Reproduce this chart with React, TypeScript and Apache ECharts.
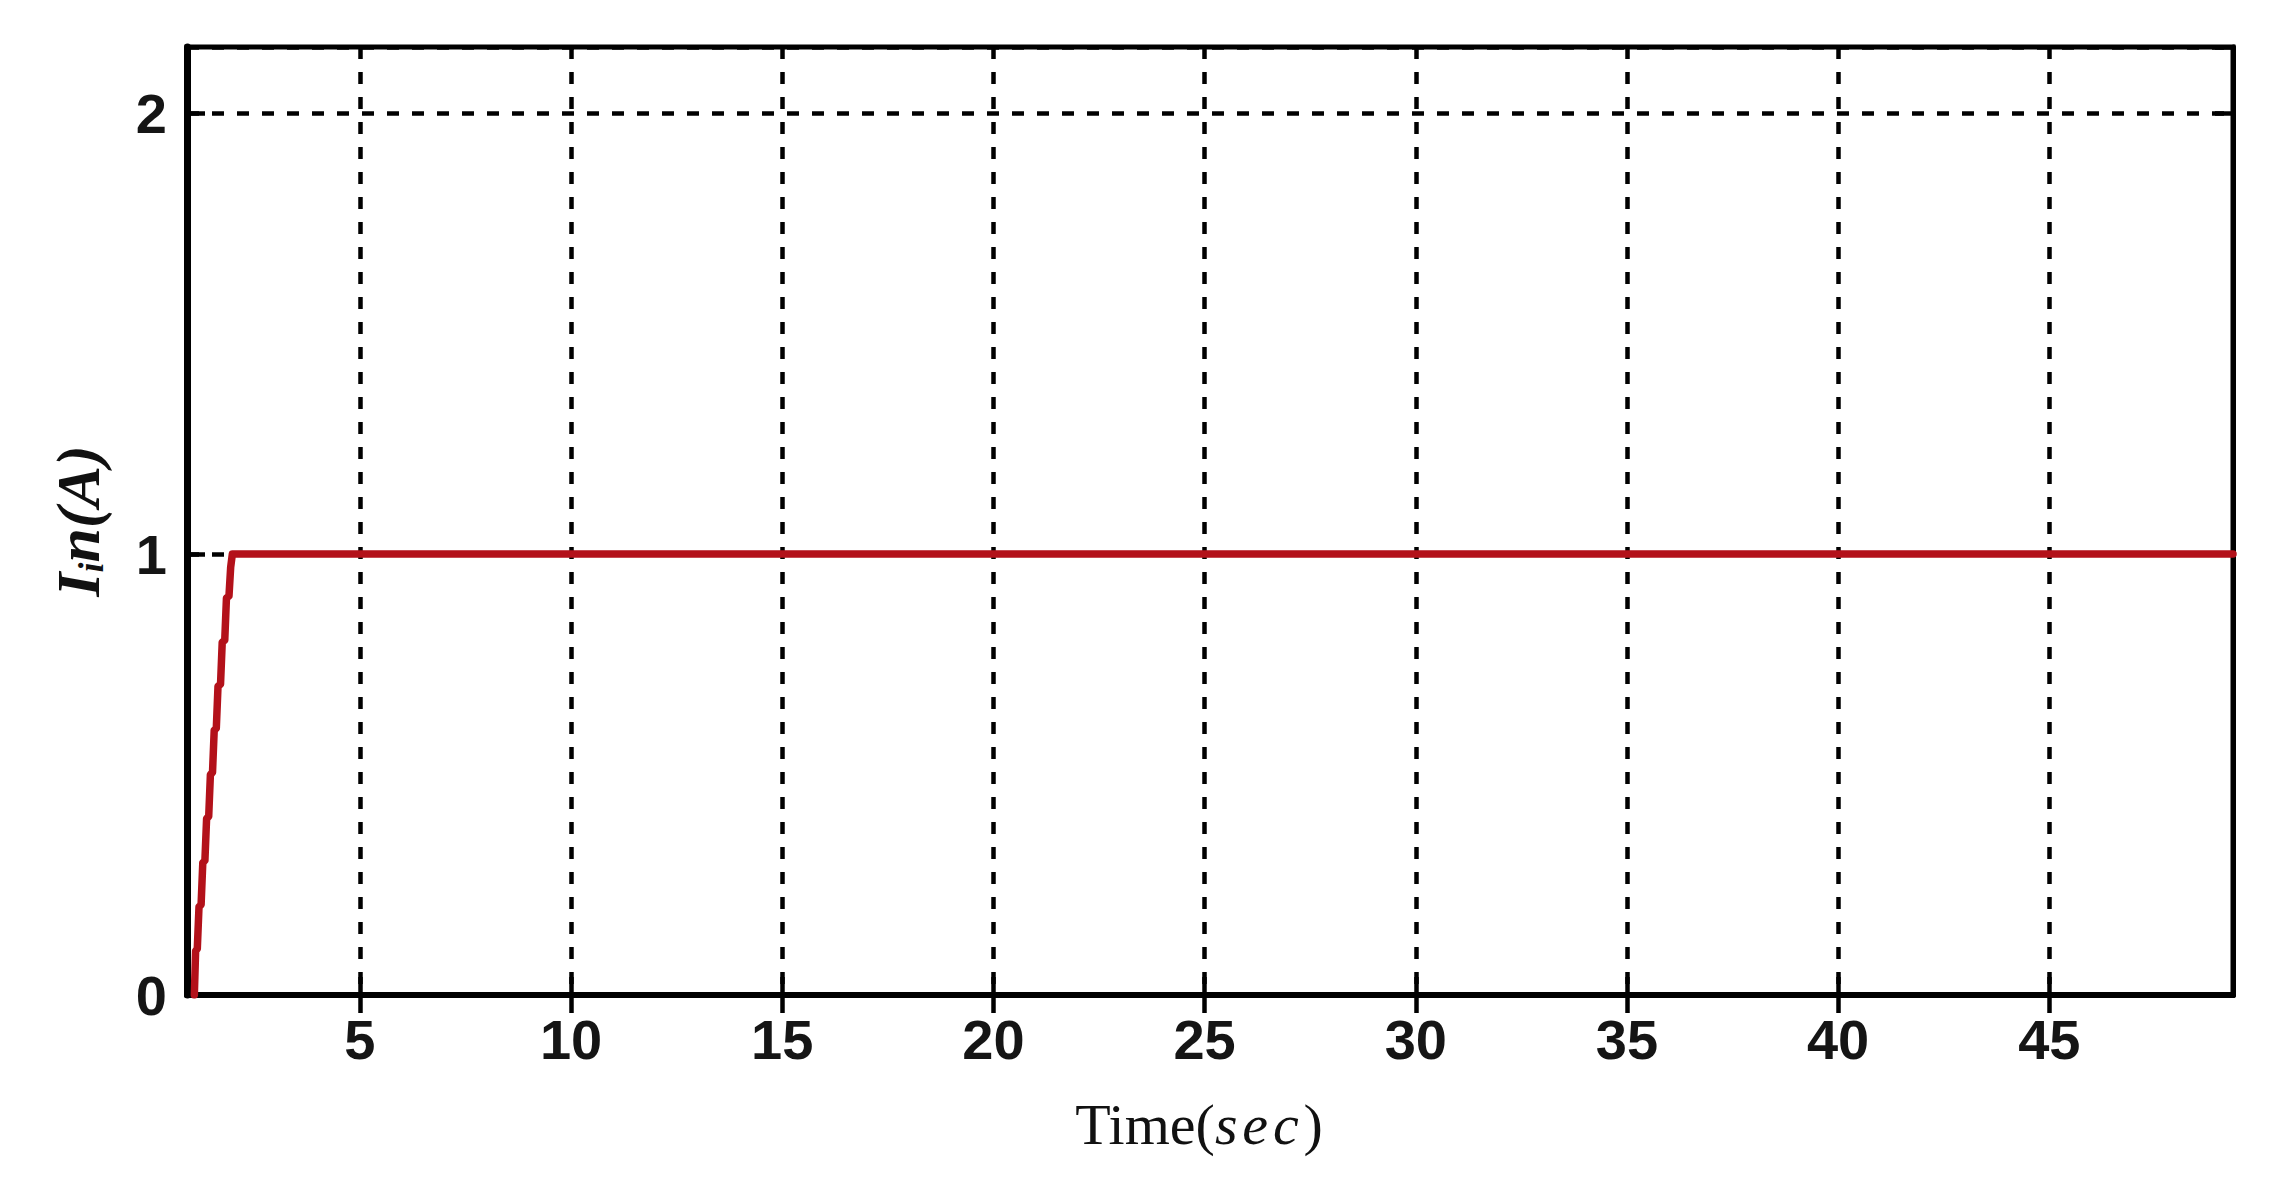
import React, { useEffect, useRef } from "react";
import * as echarts from "echarts";

const timeValues = [1.08, 1.11, 1.15, 1.19, 1.24, 1.28, 1.33, 1.37, 1.42, 1.46, 1.51, 1.55, 1.6, 1.64, 1.7, 1.74, 1.8, 1.84, 1.9, 1.94, 1.98, 2.06, 49.35];
const currentValues = [0, 0.1, 0.105, 0.2, 0.205, 0.3, 0.305, 0.4, 0.405, 0.5, 0.505, 0.6, 0.605, 0.7, 0.705, 0.8, 0.805, 0.9, 0.905, 0.97, 1.0, 1.0, 1.0];
const xTicks = [5, 10, 15, 20, 25, 30, 35, 40, 45];
const xMin = 0.906;
const xMax = 49.35;
const yMin = 0;
const yMax = 2.15;

export default function App() {
  const ref = useRef<HTMLDivElement>(null);
  useEffect(() => {
    if (!ref.current) return;
    const chart = echarts.init(ref.current, null, { renderer: "svg" });
    const gridDash = { color: "#000", width: 4.5, type: [12, 13] as any };
    const tickFont = { fontFamily: "Liberation Sans, Arial", fontSize: 56, fontWeight: "bold" as any, color: "#151515" };
    const serif = "Liberation Serif, Times New Roman, serif";
    chart.setOption({
      animation: false,
      backgroundColor: "#fff",
      grid: { left: 187, top: 47, width: 2046, height: 948, show: true, borderColor: "#000", borderWidth: 5, backgroundColor: "transparent" },
      xAxis: [
        {
          type: "value",
          min: xMin,
          max: xMax,
          position: "bottom",
          axisLine: { show: true, lineStyle: { color: "#000", width: 6 } },
          axisTick: { show: true, inside: true, length: 18, customValues: xTicks, lineStyle: { color: "#000", width: 4.5 } },
          axisLabel: { show: true, customValues: xTicks, margin: 16, ...tickFont },
          splitLine: { show: true, lineStyle: gridDash },
          name: "{n|Time(}{i|s\u200Ae\u200Ac}{n|\u200A)}",
          nameLocation: "middle",
          nameGap: 100,
          nameTextStyle: {
            padding: [0, 22, 0, 0],
            rich: {
              n: { fontFamily: serif, fontSize: 58, color: "#111" },
              i: { fontFamily: serif, fontSize: 58, fontStyle: "italic", color: "#111" },
            },
          },
        },
        {
          type: "value",
          min: xMin,
          max: xMax,
          position: "top",
          axisLine: { show: true, lineStyle: { color: "#000", width: 5 } },
          axisTick: { show: true, inside: true, length: 18, customValues: xTicks, lineStyle: { color: "#000", width: 4.5 } },
          axisLabel: { show: false },
          splitLine: { show: false },
        },
      ],
      yAxis: [
        {
          type: "value",
          min: yMin,
          max: yMax,
          interval: 1,
          position: "left",
          axisLine: { show: true, lineStyle: { color: "#000", width: 7 } },
          axisTick: { show: true, inside: true, length: 18, lineStyle: { color: "#000", width: 4.5 } },
          axisLabel: { show: true, margin: 20, ...tickFont, showMaxLabel: false },
          splitLine: { show: true, lineStyle: gridDash },
          name: "{a|I}{b|i}{a|n(A)}",
          nameLocation: "middle",
          nameRotate: 90,
          nameGap: 78,
          nameTextStyle: {
            rich: {
              a: { fontFamily: serif, fontSize: 62, fontStyle: "italic", fontWeight: "bold", color: "#111", lineHeight: 62 },
              b: { fontFamily: serif, fontSize: 36, fontStyle: "italic", fontWeight: "bold", color: "#111", verticalAlign: "bottom", lineHeight: 62 },
            },
          },
        },
        {
          type: "value",
          min: yMin,
          max: yMax,
          interval: 1,
          position: "right",
          axisLine: { show: true, lineStyle: { color: "#000", width: 5 } },
          axisTick: { show: true, inside: true, length: 18, lineStyle: { color: "#000", width: 4.5 } },
          axisLabel: { show: false },
          splitLine: { show: false },
        },
      ],
      series: [
        {
          type: "line",
          xAxisIndex: 0,
          yAxisIndex: 0,
          data: timeValues.map((t, i) => [t, currentValues[i]]),
          showSymbol: false,
          symbol: "none",
          z: 5,
          lineStyle: { color: "#b3111a", width: 7.5, join: "round", cap: "round" },
        },
      ],
    });
    return () => chart.dispose();
  }, []);
  return <div ref={ref} style={{ position: "absolute", left: 0, top: 0, width: 2274, height: 1192 }} />;
}
